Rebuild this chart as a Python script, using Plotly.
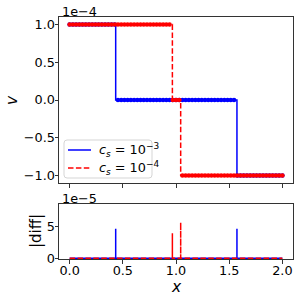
import numpy as np
import plotly.graph_objects as go

# ---------------- data ----------------
x_min, x_max = 0.0, 2.0
n_markers = 67                       # dot markers along each curve
levels = [1.0e-4, 0.0, -1.0e-4]      # v levels of the step solution
blue_breaks = [0.433, 1.573]         # c_s = 1e-3 jump positions
red_breaks = [0.966, 1.044]          # c_s = 1e-4 jump positions
blue_spike_x = [0.433, 1.573]
blue_spike_h = [4.6e-5, 4.6e-5]
red_spike_x = [0.966, 1.044]
red_spike_h = [3.9e-5, 5.6e-5]
x_ticks = [0.0, 0.5, 1.0, 1.5, 2.0]
x_tick_labels = ["0.0", "0.5", "1.0", "1.5", "2.0"]
v_ticks = [-1.0, -0.5, 0.0, 0.5, 1.0]
v_tick_labels = ["\u22121.0", "\u22120.5", "0.0", "0.5", "1.0"]
d_ticks = [0, 5]
d_tick_labels = ["0", "5"]
v_scale = 1e-4
d_scale = 1e-5
labels = ["<i>c</i><sub><i>s</i></sub> = 10<sup>\u22123</sup>",
          "<i>c</i><sub><i>s</i></sub> = 10<sup>\u22124</sup>"]

BLUE = "#0000ff"
RED = "#ff0000"
FONT = "DejaVu Sans"


def step_line(breaks):
    xs = [x_min, breaks[0], breaks[0], breaks[1], breaks[1], x_max]
    ys = [levels[0], levels[0], levels[1], levels[1], levels[2], levels[2]]
    return np.array(xs), np.array(ys)


def step_markers(breaks):
    g = np.linspace(x_min, x_max, n_markers)
    v = np.where(g < breaks[0], levels[0], np.where(g < breaks[1], levels[1], levels[2]))
    return g, v


def spike_line(sx, sh):
    xs, ys = [x_min], [0.0]
    for x, h in zip(sx, sh):
        xs += [x, x, x]
        ys += [0.0, h, 0.0]
    xs.append(x_max)
    ys.append(0.0)
    return np.array(xs), np.array(ys)


fig = go.Figure()

dash_red = "5.5px,2.4px"
MS = 4.6

# top panel
bx, by = step_line(blue_breaks)
fig.add_trace(go.Scatter(x=bx, y=by / v_scale, mode="lines", line=dict(color=BLUE, width=1.5),
                         showlegend=False, xaxis="x2", yaxis="y2"))
gx, gv = step_markers(blue_breaks)
fig.add_trace(go.Scatter(x=gx, y=gv / v_scale, mode="markers", marker=dict(color=BLUE, size=MS),
                         showlegend=False, xaxis="x2", yaxis="y2"))
rx, ry = step_line(red_breaks)
fig.add_trace(go.Scatter(x=rx, y=ry / v_scale, mode="lines", line=dict(color=RED, width=1.5, dash=dash_red),
                         showlegend=False, xaxis="x2", yaxis="y2"))
gx, gv = step_markers(red_breaks)
fig.add_trace(go.Scatter(x=gx, y=gv / v_scale, mode="markers", marker=dict(color=RED, size=MS),
                         showlegend=False, xaxis="x2", yaxis="y2"))

# bottom panel
sx, sy = spike_line(blue_spike_x, blue_spike_h)
fig.add_trace(go.Scatter(x=sx, y=sy / d_scale, mode="lines", line=dict(color=BLUE, width=1.5),
                         showlegend=False, xaxis="x", yaxis="y"))
sx, sy = spike_line(red_spike_x, red_spike_h)
fig.add_trace(go.Scatter(x=sx, y=sy / d_scale, mode="lines", line=dict(color=RED, width=1.5, dash=dash_red),
                         showlegend=False, xaxis="x", yaxis="y"))

L, R, T, B = 59, 7, 17, 41
H = 300 - T - B
W = 300 - L - R


def px_x(p):
    return (p - L) / W


def px_y(p):
    return (300 - B - p) / H


axis_common = dict(showline=True, mirror=True, linecolor="#333333", linewidth=1,
                   ticks="outside", ticklen=3.5, tickwidth=1, tickcolor="#333333",
                   showgrid=False, zeroline=False,
                   tickfont=dict(family=FONT, size=12.8, color="black"))

fig.update_layout(
    width=300, height=300,
    margin=dict(l=L, r=R, t=T, b=B),
    paper_bgcolor="white", plot_bgcolor="white",
    font=dict(family=FONT, size=12.8, color="black"),
    xaxis=dict(domain=[0, 1], range=[-0.1, 2.1], anchor="y", ticklabelstandoff=-4,
               tickvals=x_ticks, ticktext=x_tick_labels, layer="below traces", **axis_common),
    yaxis=dict(domain=[0, px_y(204)], range=[-0.1, 8.46], anchor="x", ticklabelstandoff=-3,
               tickvals=d_ticks, ticktext=d_tick_labels, layer="below traces", **axis_common),
    xaxis2=dict(domain=[0, 1], range=[-0.1, 2.1], anchor="y2", matches="x",
                tickvals=x_ticks, showticklabels=False, **axis_common),
    yaxis2=dict(domain=[px_y(183), 1], range=[-1.1, 1.1], anchor="x2", ticklabelstandoff=-3,
                tickvals=v_ticks, ticktext=v_tick_labels, **axis_common),
    showlegend=False,
)


# ----- legend drawn by hand to match the reference box -----
def rounded_rect(x0, y0, x1, y1, r):
    X = lambda p: px_x(p)
    Y = lambda p: px_y(p)
    return (f"M {X(x0 + r)},{Y(y0)} L {X(x1 - r)},{Y(y0)} Q {X(x1)},{Y(y0)} {X(x1)},{Y(y0 + r)} "
            f"L {X(x1)},{Y(y1 - r)} Q {X(x1)},{Y(y1)} {X(x1 - r)},{Y(y1)} "
            f"L {X(x0 + r)},{Y(y1)} Q {X(x0)},{Y(y1)} {X(x0)},{Y(y1 - r)} "
            f"L {X(x0)},{Y(y0 + r)} Q {X(x0)},{Y(y0)} {X(x0 + r)},{Y(y0)} Z")


fig.add_shape(type="path", path=rounded_rect(64, 140, 152, 178, 3), xref="paper", yref="paper",
              line=dict(color="#d5d5d5", width=1), fillcolor="rgba(255,255,255,0.8)", layer="above")
legend_rows = [(150, BLUE, "solid", labels[0]), (168, RED, dash_red, labels[1])]
for ypix, col, dash, lab in legend_rows:
    fig.add_shape(type="line", x0=px_x(68), x1=px_x(91), y0=px_y(ypix), y1=px_y(ypix),
                  xref="paper", yref="paper", line=dict(color=col, width=1.5, dash=dash), layer="above")
    fig.add_annotation(text=lab, x=px_x(97), y=px_y(ypix), xref="paper", yref="paper",
                       xanchor="left", yanchor="middle", showarrow=False,
                       font=dict(family=FONT, size=12.8, color="black"))

ann = [
    dict(text="<i>v</i>", x=px_x(12), y=px_y(100), textangle=-90, font=dict(size=15.5)),
    dict(text="|diff|", x=px_x(36), y=px_y(231), textangle=-90, font=dict(size=15)),
    dict(text="<i>x</i>", x=px_x(176), y=px_y(287), font=dict(size=15.5)),
    dict(text="1e\u22124", x=px_x(60), y=px_y(11), xanchor="left", font=dict(size=12.8)),
    dict(text="1e\u22125", x=px_x(60), y=px_y(198), xanchor="left", font=dict(size=12.8)),
]
for a in ann:
    a.setdefault("xanchor", "center")
    a.update(xref="paper", yref="paper", showarrow=False, yanchor="middle")
    a["font"].update(family=FONT, color="black")
    fig.add_annotation(**a)

fig.write_html("out.html", config={"displayModeBar": False},
               post_script="document.body.style.margin='0';document.body.style.overflow='hidden';")
